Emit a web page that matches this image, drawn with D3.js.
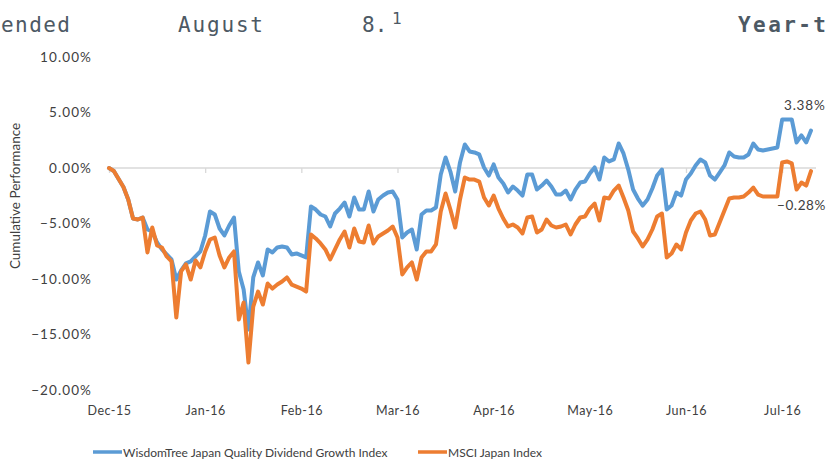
<!DOCTYPE html>
<html>
<head>
<meta charset="utf-8">
<script src="https://cdn.jsdelivr.net/npm/d3@7"></script>
<style>
  body { margin: 0; background: #fff; }
  svg { display: block; }
  .tick text { font-family: Lato, "Open Sans", sans-serif; }
</style>
</head>
<body>
<div id="chart"></div>
<script>
// month labels shown along the bottom, one every 20 trading days
var monthLabels = ["Dec-15", "Jan-16", "Feb-16", "Mar-16", "Apr-16", "May-16", "Jun-16", "Jul-16"];
var yTicks = [10, 5, 0, -5, -10, -15, -20];
var seriesNames = ["WisdomTree Japan Quality Dividend Growth Index", "MSCI Japan Index"];

// cumulative performance (%) per trading day
var wisdomTree = [
  0.00, -0.27, -0.99, -1.71, -2.84, -4.55, -4.64, -4.46, -5.54, -5.72,
  -6.71, -7.34, -7.79, -8.24, -10.05, -9.23, -8.60, -8.42, -7.97, -7.52,
  -6.08, -3.92, -4.19, -5.45, -6.08, -5.18, -4.46, -9.32, -10.95, -14.55,
  -9.86, -8.51, -9.68, -7.34, -7.61, -7.16, -7.07, -7.16, -7.79, -7.70,
  -7.88, -8.06, -3.47, -3.74, -4.19, -4.37, -5.27, -4.10, -3.65, -3.11,
  -4.37, -2.66, -3.74, -3.74, -2.12, -3.92, -2.84, -2.48, -2.21, -2.12,
  -2.84, -6.26, -5.81, -5.54, -7.34, -4.19, -3.83, -3.83, -3.56, -0.59,
  0.95, -0.32, -2.12, 0.50, 2.12, 1.49, 1.40, 1.22, 0.05, -0.68,
  0.32, -0.86, -1.40, -2.21, -1.67, -2.03, -2.48, -0.59, -0.59, -1.94,
  -1.58, -1.13, -1.67, -2.39, -2.39, -2.03, -2.84, -1.94, -1.31, -1.22,
  -0.50, 0.05, -1.04, 0.95, 0.59, 0.77, 2.21, 1.31, -0.14, -1.94,
  -2.75, -3.38, -2.84, -1.85, -0.68, -0.14, -3.74, -3.38, -2.21, -2.48,
  -1.04, -0.50, 0.23, 0.77, 0.50, -0.68, -1.04, -0.41, 0.23, 1.40,
  1.04, 0.95, 0.95, 1.22, 2.21, 1.67, 1.58, 1.67, 1.76, 1.85,
  4.37, 4.37, 4.37, 2.30, 2.93, 2.30, 3.38
];
var msciJapan = [
  0.00, -0.27, -0.99, -1.71, -2.84, -4.55, -4.64, -4.46, -7.61, -5.36,
  -6.98, -7.16, -7.97, -8.42, -13.47, -9.32, -8.69, -10.05, -8.33, -8.96,
  -7.52, -6.44, -6.26, -7.88, -8.96, -8.06, -7.52, -13.65, -12.12, -17.52,
  -12.48, -11.13, -12.30, -10.41, -10.86, -10.50, -10.23, -9.86, -10.50, -10.68,
  -10.86, -11.13, -5.99, -6.35, -6.80, -7.34, -8.24, -7.34, -6.44, -5.72,
  -7.16, -5.45, -6.62, -6.71, -5.18, -6.80, -6.17, -5.90, -5.63, -5.27,
  -6.26, -9.59, -8.96, -8.51, -10.05, -8.06, -7.52, -7.52, -6.89, -3.92,
  -2.30, -3.74, -5.36, -2.84, -0.86, -1.04, -1.04, -1.22, -2.66, -3.38,
  -2.48, -3.65, -4.55, -5.27, -5.09, -5.36, -5.90, -4.46, -4.37, -5.81,
  -5.54, -4.64, -5.18, -5.36, -5.27, -5.09, -5.99, -5.09, -4.46, -4.37,
  -3.65, -3.20, -4.73, -2.66, -2.75, -2.03, -1.58, -2.66, -3.83, -5.72,
  -6.35, -7.07, -6.44, -5.54, -4.37, -4.10, -8.06, -7.70, -6.89, -7.34,
  -5.81, -4.73, -4.10, -3.92, -4.64, -6.08, -5.99, -4.91, -3.83, -2.75,
  -2.66, -2.66, -2.57, -2.21, -1.76, -2.39, -2.57, -2.57, -2.57, -2.57,
  0.50, 0.59, 0.41, -1.94, -1.31, -1.58, -0.28
];

var W = 829, H = 460;
var colors = ["#5b9bd5", "#ed7d31"];
var textColor = "#404040";

var svg = d3.select("#chart").append("svg")
  .attr("width", W)
  .attr("height", H);

// heading strip cut off at the top of the picture
var head = svg.append("g")
  .attr("font-family", "'DejaVu Sans Mono', monospace")
  .attr("font-size", 21)
  .attr("fill", "#4d5964");
head.append("text").attr("x", 1).attr("y", 32).attr("textLength", 69).text("ended");
head.append("text").attr("x", 178).attr("y", 32).attr("textLength", 85).text("August");
head.append("text").attr("x", 362).attr("y", 32).text("8.");
head.append("text").attr("x", 392).attr("y", 24).attr("font-size", 16).text("1");
head.append("text").attr("x", 738).attr("y", 32).attr("font-weight", "bold").attr("textLength", 88).text("Year-t");

var x = d3.scaleLinear()
  .domain([0, wisdomTree.length - 1])
  .range([109, 811]);

var y = d3.scaleLinear()
  .domain([-20, 10])
  .range([390, 57]);

// y axis labels only (no line, no ticks)
var yAxis = svg.append("g")
  .attr("transform", "translate(95,0)")
  .call(d3.axisLeft(y).tickValues(yTicks).tickSize(0).tickPadding(3)
    .tickFormat(function(d){ return d3.format(".2f")(d) + "%"; }));
yAxis.select(".domain").remove();
yAxis.selectAll("text").attr("font-size", 13.5).attr("letter-spacing", 1.1).attr("fill", textColor);

svg.append("text")
  .attr("transform", "translate(20,196) rotate(-90)")
  .attr("text-anchor", "middle")
  .attr("font-family", "Lato, sans-serif")
  .attr("font-size", 13.5)
  .attr("fill", textColor)
  .text("Cumulative Performance");

// horizontal axis line sits at 0% with short ticks below it
var tickIdx = monthLabels.map(function(d, i){ return i * 20; });
var xAxisLine = svg.append("g")
  .attr("transform", "translate(0," + y(0) + ")")
  .call(d3.axisBottom(x).tickValues(tickIdx).tickSize(5).tickSizeOuter(0).tickFormat(""));
xAxisLine.select(".domain").attr("stroke", "#d9d9d9").attr("stroke-width", 1.3)
  .attr("d", "M" + (x(0) - 1) + ",0H816");
xAxisLine.selectAll(".tick line").attr("stroke", "#d9d9d9").attr("stroke-width", 1.3);

// month labels at the bottom of the plot
var xLabels = svg.append("g")
  .attr("transform", "translate(0,403)")
  .call(d3.axisBottom(x).tickValues(tickIdx).tickSize(0)
    .tickFormat(function(d, i){ return monthLabels[i]; }));
xLabels.select(".domain").remove();
xLabels.selectAll("text").attr("font-size", 12.5).attr("letter-spacing", 0.5).attr("fill", textColor);

var line = d3.line()
  .x(function(d, i){ return x(i); })
  .y(function(d){ return y(d); });

[wisdomTree, msciJapan].forEach(function(s, k){
  svg.append("path")
    .datum(s)
    .attr("d", line)
    .attr("fill", "none")
    .attr("stroke", colors[k])
    .attr("stroke-width", 4)
    .attr("stroke-linejoin", "round")
    .attr("stroke-linecap", "round");
});

// end value labels
var last = wisdomTree.length - 1;
svg.append("text")
  .attr("x", 784).attr("y", y(wisdomTree[last]) - 20)
  .attr("font-family", "Lato, sans-serif").attr("font-size", 13.5).attr("letter-spacing", 0.8).attr("fill", textColor)
  .text(d3.format(".2f")(wisdomTree[last]) + "%");
svg.append("text")
  .attr("x", 777).attr("y", y(msciJapan[last]) + 39)
  .attr("font-family", "Lato, sans-serif").attr("font-size", 13.5).attr("letter-spacing", 0.6).attr("fill", textColor)
  .text(d3.format(".2f")(msciJapan[last]) + "%");

// legend
var legendX = [93, 418];
var legend = svg.append("g").attr("transform", "translate(0,452)");
seriesNames.forEach(function(name, k){
  legend.append("line")
    .attr("x1", legendX[k]).attr("x2", legendX[k] + 29)
    .attr("y1", 0).attr("y2", 0)
    .attr("stroke", colors[k]).attr("stroke-width", 3.5);
  legend.append("text")
    .attr("x", legendX[k] + 30).attr("y", 4.5)
    .attr("font-family", "Lato, sans-serif").attr("font-size", 12).attr("fill", textColor)
    .text(name);
});
</script>
</body>
</html>
